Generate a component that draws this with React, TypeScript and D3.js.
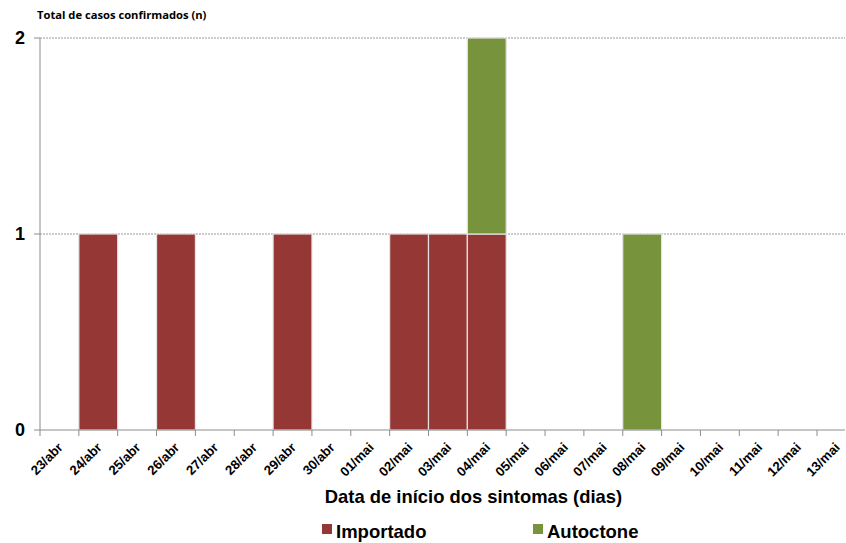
import React from "react";
import * as d3 from "d3";

const dates = [
  "23/abr", "24/abr", "25/abr", "26/abr", "27/abr", "28/abr", "29/abr", "30/abr",
  "01/mai", "02/mai", "03/mai", "04/mai", "05/mai", "06/mai", "07/mai", "08/mai",
  "09/mai", "10/mai", "11/mai", "12/mai", "13/mai",
];
const importado = [0, 1, 0, 1, 0, 0, 1, 0, 0, 1, 1, 1, 0, 0, 0, 0, 0, 0, 0, 0, 0];
const autoctone = [0, 0, 0, 0, 0, 0, 0, 0, 0, 0, 0, 1, 0, 0, 0, 1, 0, 0, 0, 0, 0];
const yTicks = [0, 1, 2];
const seriesNames = ["Importado", "Autoctone"];
const colors = ["#953735", "#77933C"];

const W = 846;
const H = 543;

export default function App() {
  const x = d3.scaleBand<string>().domain(dates).range([40, 40 + 38.85 * dates.length]).padding(0);
  const y = d3.scaleLinear().domain([0, 2]).range([430, 38]);
  const rows = dates.map((d, i) => ({ date: d, Importado: importado[i], Autoctone: autoctone[i] }));
  const stack = d3.stack<any>().keys(seriesNames)(rows);
  const axisRight = 845;
  const font = "'Liberation Sans', Arial, sans-serif";

  return (
    <svg width={W} height={H} style={{ position: "absolute", left: 0, top: 0, background: "#fff" }}>
      {yTicks.filter((t) => t > 0).map((t) => (
        <line key={t} x1={40} x2={axisRight} y1={y(t)} y2={y(t)} stroke="#9a9a9a" strokeWidth={1} strokeDasharray="2,1" />
      ))}
      {stack.map((s, si) =>
        s.map((d, i) =>
          d[1] - d[0] > 0 ? (
            <rect
              key={`${si}-${i}`}
              x={x(dates[i])!}
              y={y(d[1])}
              width={x.bandwidth()}
              height={y(d[0]) - y(d[1])}
              fill={colors[si]}
              stroke="#e4e4e4"
              strokeWidth={1.2}
            />
          ) : null
        )
      )}
      <line x1={40} x2={40} y1={38} y2={430} stroke="#8c8c8c" strokeWidth={1} />
      {yTicks.map((t) => (
        <g key={t}>
          <line x1={34} x2={40} y1={y(t)} y2={y(t)} stroke="#8c8c8c" />
          <text x={25} y={y(t)} dy="0.35em" textAnchor="end" fontFamily={font} fontWeight="bold" fontSize={18} fill="#000">
            {t}
          </text>
        </g>
      ))}
      <line x1={40} x2={axisRight} y1={430} y2={430} stroke="#8c8c8c" strokeWidth={1} />
      {dates.map((d) => (
        <line key={d} x1={x(d)!} x2={x(d)!} y1={430} y2={436} stroke="#8c8c8c" />
      ))}
      {dates.map((d) => {
        const cx = x(d)! + x.bandwidth() / 2 + 1;
        return (
          <text
            key={d}
            transform={`translate(${cx},${445}) rotate(-45)`}
            textAnchor="end"
            dy="0.35em"
            fontFamily={font}
            fontWeight="bold"
            fontSize={13.2}
            fill="#000"
          >
            {d}
          </text>
        );
      })}
      <text x={37} y={19} fontFamily="'Open Sans', sans-serif" fontWeight="bold" fontSize={11.2} fill="#000">
        Total de casos confirmados (n)
      </text>
      <text x={473.5} y={503} textAnchor="middle" fontFamily={font} fontWeight="bold" fontSize={18.4} fill="#000">
        Data de início dos sintomas (dias)
      </text>
      {seriesNames.map((n, i) => {
        const lx = i === 0 ? 322 : 533;
        return (
          <g key={n}>
            <rect x={lx} y={524} width={10} height={10} fill={colors[i]} />
            <text x={lx + 14} y={538} fontFamily={font} fontWeight="bold" fontSize={18.5} fill="#000">
              {n}
            </text>
          </g>
        );
      })}
    </svg>
  );
}
